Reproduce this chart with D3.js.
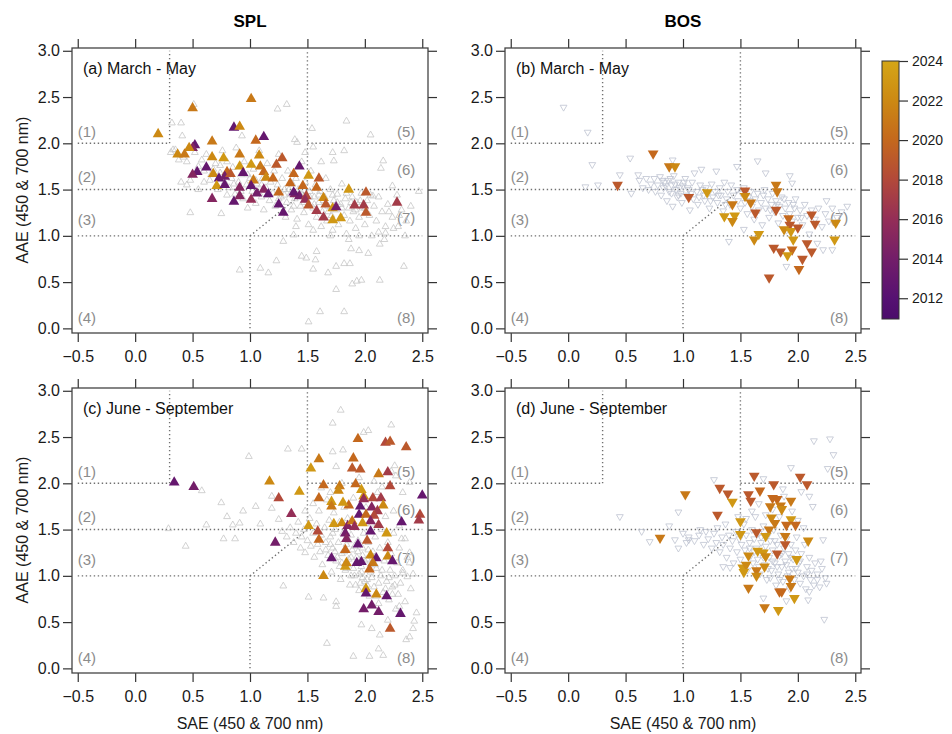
<!DOCTYPE html>
<meta charset="utf-8">
<style>
  body { margin: 0; background: #fff; }
  text { font-family: Arial, "Liberation Sans", sans-serif; }
</style>
<body>
<script src="https://d3js.org/d3.v7.min.js"></script>
<script>

// axis ticks
var xTicks = [-0.5, 0, 0.5, 1, 1.5, 2, 2.5];
var yTicks = [0, 0.5, 1, 1.5, 2, 2.5, 3];
var yearTicks = [2012, 2014, 2016, 2018, 2020, 2022, 2024];

// colour bar stops (year -> colour)
var yearStops = [2011, 2012, 2014, 2016, 2018, 2020, 2022, 2024];
var yearColors = ["#4b0c6b", "#561172", "#731e69", "#942e57", "#b2493a", "#c4681d", "#cc8913", "#d4a617"];

// classification regions (x1, y1, x2, y2)
var regionLines = [[-0.5, 2, 0.3, 2], [0.3, 2, 0.3, 3], [-0.5, 1.5, 2.5, 1.5], [-0.5, 1, 2.5, 1],
  [1, 0, 1, 1], [1, 1, 1.5, 1.5], [1.5, 1.5, 1.5, 3], [1.5, 2, 2.5, 2]];
var regionNames = ["(1)", "(2)", "(3)", "(4)", "(5)", "(6)", "(7)", "(8)"];
var regionX = [-0.5, -0.5, -0.5, -0.5, 2.44, 2.44, 2.44, 2.44];
var regionY = [2.12, 1.64, 1.17, 0.12, 2.12, 1.71, 1.2, 0.12];

// (a) SPL March - May : all points [SAE, AAE]
var splMamGray = [[0.51,2.42],[1.24,2.37],[1.32,2.42],[1.84,2.24],[1.54,2.16],[2.05,2.09],[0.32,2.22],[0.40,2.22],[0.41,2.08],[0.35,1.93],[0.93,2.08],[1.39,2.04],[1.41,2.01],[1.55,1.96],[1.72,1.90],[1.82,1.92],[2.16,1.81],[2.14,1.73],[1.73,1.81],[0.48,1.25],[0.75,1.24],[0.91,0.63],[1.09,0.65],[1.16,0.60],[1.23,0.73],[1.29,0.94],[1.38,1.01],[1.45,0.78],[1.49,0.76],[1.58,0.83],[1.57,0.74],[1.55,0.64],[1.68,0.60],[1.75,0.67],[1.82,0.70],[1.87,0.70],[1.88,0.86],[1.95,0.84],[2.03,0.81],[2.13,0.91],[2.18,1.03],[2.17,0.96],[2.34,0.67],[2.13,0.52],[1.97,0.52],[1.93,0.51],[1.89,0.48],[1.75,0.42],[1.61,0.18],[1.82,0.18],[1.51,0.07],[2.29,1.10],[2.47,1.48],[2.30,1.22],[2.21,1.26],[2.24,1.54],[2.07,1.43],
  [0.42,1.85],[0.45,1.80],[0.52,1.90],[0.55,1.75],[0.58,1.82],[0.60,1.70],[0.62,1.88],[0.65,1.60],[0.68,1.72],[0.70,1.78],[0.72,1.50],[0.74,1.68],[0.76,1.92],[0.78,1.58],[0.80,1.80],[0.82,1.52],[0.84,1.62],[0.85,1.74],[0.87,1.45],[0.88,1.95],[0.90,1.58],[0.92,1.66],[0.94,1.40],[0.95,1.80],[0.97,1.55],[0.98,1.30],[1.00,1.62],[1.02,1.48],[1.03,1.72],[1.05,1.35],[1.06,1.56],[1.08,1.92],[1.10,1.42],[1.11,1.62],[1.12,1.28],[1.14,1.52],[1.15,1.78],[1.17,1.38],[1.18,1.58],[1.20,1.46],[1.21,1.70],[1.22,1.32],[1.24,1.55],[1.25,1.88],[1.27,1.42],[1.28,1.62],[1.30,1.50],[1.31,1.20],[1.32,1.36],[1.33,1.70],[1.35,1.45],[1.36,1.28],[1.37,1.56],[1.39,1.40],[1.40,1.62],[1.41,1.18],[1.42,1.50],[1.44,1.32],[1.45,1.80],[1.46,1.44],[1.47,1.25],[1.48,1.58],[1.50,1.38],[1.51,1.12],[1.52,1.48],[1.53,1.70],[1.55,1.30],[1.56,1.42],[1.57,1.55],[1.58,1.20],[1.60,1.36],[1.61,1.48],[1.62,1.10],[1.63,1.26],[1.65,1.42],[1.66,1.62],[1.67,1.16],[1.68,1.32],[1.70,1.50],[1.71,1.22],[1.72,1.06],[1.73,1.38],[1.75,1.28],[1.76,1.45],[1.77,1.12],[1.79,1.34],[1.80,1.56],[1.82,1.22],[1.83,1.40],[1.84,1.02],[1.86,1.30],[1.87,1.16],[1.89,1.42],[1.90,1.26],[1.92,1.08],[1.93,1.36],[1.95,1.20],[1.97,1.46],[1.98,1.30],[2.00,1.12],[2.02,1.38],[2.04,1.22],[2.06,1.00],[2.08,1.32],[2.10,1.16],[2.12,1.42],[2.15,1.26],[2.18,1.10],[2.20,1.34],[2.24,1.20],[2.28,1.44],[2.32,1.28],[2.36,1.16],[2.40,1.32],
  [0.31,1.90],[0.33,1.93],[0.40,1.58],[0.55,1.50],[0.45,1.55],[0.48,1.60],[0.38,1.82],
  [1.25,1.40],[1.30,1.44],[1.34,1.50],[1.38,1.32],[1.43,1.46],[1.47,1.36],[1.52,1.42],[1.56,1.34],[1.60,1.44],[1.64,1.38],[1.68,1.26],[1.72,1.44],[1.76,1.36],[1.80,1.30],[1.84,1.46],[1.88,1.36],[1.92,1.28],[1.96,1.38],[2.00,1.30],[2.05,1.44],[1.15,1.44],[1.10,1.55],[1.05,1.60],[0.98,1.66],[0.92,1.48],[0.86,1.56],[0.80,1.44],[0.74,1.76],[0.66,1.66],[0.60,1.58],[1.40,1.10],[1.55,1.06],[1.70,1.00],[1.86,0.96],[1.95,1.00],[2.12,1.04],[2.25,1.08],[2.35,1.00],[1.48,1.90],[1.62,1.80]];

// (a) SPL March - May : highlighted points [SAE, AAE, year]
var splMamColor = [[0.20,2.10,2022],[0.50,2.38,2021],[1.01,2.48,2021],[0.86,2.17,2013],[0.91,2.18,2022],[1.12,2.07,2013],[1.05,2.03,2020],[0.67,2.02,2021],[0.52,1.98,2013],[0.50,1.95,2015],[0.47,1.95,2022],[0.37,1.88,2022],[0.43,1.88,2021],[0.67,1.85,2022],[0.77,1.84,2023],[0.91,1.88,2021],[1.08,1.87,2022],[1.28,1.84,2019],[1.23,1.77,2019],[1.43,1.75,2013],[0.62,1.74,2013],[0.54,1.69,2013],[0.50,1.66,2015],[0.68,1.67,2022],[0.80,1.69,2020],[0.91,1.75,2023],[1.01,1.77,2023],[1.09,1.75,2021],[1.12,1.69,2020],[0.94,1.68,2013],[0.73,1.62,2013],[0.78,1.64,2014],[0.83,1.67,2019],[1.03,1.60,2021],[1.14,1.63,2022],[1.20,1.62,2020],[1.38,1.67,2020],[1.51,1.65,2023],[1.60,1.62,2019],[1.35,1.57,2020],[1.46,1.54,2020],[1.58,1.52,2020],[1.86,1.50,2023],[2.01,1.47,2019],[2.28,1.36,2017],[0.71,1.54,2023],[0.78,1.55,2013],[1.01,1.54,2013],[0.91,1.52,2015],[1.12,1.50,2015],[1.16,1.45,2013],[1.06,1.46,2014],[1.25,1.47,2020],[1.25,1.34,2013],[1.29,1.25,2013],[1.39,1.45,2015],[1.43,1.43,2014],[1.49,1.43,2018],[1.48,1.39,2016],[1.51,1.33,2019],[1.64,1.41,2022],[1.66,1.34,2019],[1.58,1.27,2017],[1.64,1.20,2017],[1.72,1.30,2023],[1.75,1.31,2014],[1.79,1.19,2023],[1.72,1.17,2023],[1.91,1.33,2017],[1.99,1.33,2017],[2.01,1.25,2019],[0.67,1.40,2015],[0.86,1.37,2013],[0.91,1.43,2015],[1.01,1.39,2016],[1.38,1.47,2013]];

// (b) BOS March - May
var bosMamGray = [[-0.04,2.39],[0.17,2.12],[0.21,1.77],[0.54,1.84],[0.15,1.53],[0.26,1.55],[0.45,1.66],[0.61,1.66],[0.55,1.46],[0.91,1.82],[1.65,1.81],[1.72,1.68],[1.93,1.65],[1.95,1.57],[1.47,1.75],[1.40,0.94],[1.53,1.07],[1.90,0.67],[2.30,0.85],[2.43,1.32],[2.22,0.85],[2.17,0.92],[2.25,1.38],
  [0.62,1.60],[0.65,1.52],[0.68,1.62],[0.70,1.50],[0.72,1.56],[0.75,1.62],[0.76,1.48],[0.78,1.55],[0.80,1.64],[0.81,1.44],[0.83,1.52],[0.84,1.58],[0.86,1.38],[0.87,1.60],[0.88,1.48],[0.90,1.55],[0.91,1.32],[0.92,1.65],[0.94,1.50],[0.95,1.42],[0.96,1.58],[0.98,1.46],[0.99,1.36],[1.00,1.54],[1.02,1.62],[1.03,1.44],[1.05,1.50],[1.06,1.28],[1.08,1.58],[1.09,1.40],[1.10,1.68],[1.12,1.48],[1.13,1.34],[1.15,1.55],[1.16,1.72],[1.18,1.44],[1.19,1.38],[1.20,1.52],[1.22,1.46],[1.23,1.30],[1.25,1.56],[1.26,1.42],[1.28,1.48],[1.29,1.70],[1.30,1.36],[1.32,1.52],[1.33,1.44],[1.35,1.27],[1.36,1.58],[1.38,1.40],[1.39,1.48],[1.41,1.34],[1.42,1.55],[1.44,1.44],[1.45,1.22],[1.47,1.50],[1.48,1.38],[1.50,1.30],[1.51,1.46],[1.53,1.52],[1.54,1.36],[1.56,1.24],[1.57,1.42],[1.59,1.48],[1.60,1.32],[1.62,1.18],[1.63,1.40],[1.65,1.46],[1.66,1.28],[1.68,1.36],[1.69,1.12],[1.71,1.50],[1.72,1.30],[1.74,1.40],[1.75,1.20],[1.77,1.34],[1.78,1.46],[1.80,1.26],[1.81,1.38],[1.83,1.14],[1.84,1.32],[1.86,1.42],[1.87,1.22],[1.89,1.30],[1.90,1.06],[1.92,1.36],[1.93,1.24],[1.95,1.16],[1.97,1.30],[1.98,1.40],[2.00,1.20],[2.02,1.28],[2.04,1.12],[2.06,1.34],[2.08,1.22],[2.10,1.02],[2.12,1.28],[2.15,1.18],[2.18,1.30],[2.21,1.10],[2.24,1.24],[2.27,1.16],[2.30,1.30],[2.34,1.20],[2.38,1.26],
  [0.82,1.60],[0.85,1.54],[0.89,1.62],[0.93,1.56],[0.97,1.52],[1.01,1.58],[0.90,1.46],[0.96,1.44],[1.04,1.52],[1.07,1.46],[1.14,1.42],[1.17,1.50],[1.24,1.38],[1.31,1.44],[1.37,1.34],[1.58,1.38],[1.70,1.44],[1.76,1.28],[1.82,1.34],[1.88,1.40],[1.96,1.34],[2.03,1.20]];

var bosMamColor = [[0.74,1.89,2020],[0.88,1.75,2021],[0.93,1.75,2022],[0.43,1.55,2019],[1.05,1.42,2019],[1.21,1.47,2023],[1.54,1.49,2019],[1.54,1.43,2022],[1.59,1.36,2021],[1.43,1.34,2021],[1.36,1.21,2023],[1.45,1.22,2023],[1.43,1.16,2022],[1.63,1.25,2019],[1.81,1.55,2021],[1.82,1.48,2021],[1.81,1.28,2019],[1.92,1.19,2020],[1.93,1.12,2019],[1.88,1.07,2022],[1.94,1.05,2023],[2.00,1.09,2019],[1.96,0.96,2023],[1.62,0.96,2022],[1.66,1.02,2023],[2.12,1.23,2019],[2.15,1.13,2019],[2.33,1.14,2022],[2.32,0.96,2023],[2.08,0.92,2019],[2.12,0.83,2019],[1.79,0.87,2019],[1.85,0.83,2019],[1.95,0.85,2020],[1.91,0.79,2023],[2.04,0.75,2019],[2.01,0.64,2020],[1.75,0.55,2019]];

// (c) SPL June - September
var splJjasGray = [[1.79,2.79],[1.72,2.65],[2.23,2.63],[2.03,2.57],[1.99,2.55],[1.33,2.37],[1.45,2.37],[0.99,2.29],[1.72,2.34],[1.81,2.36],[1.75,2.18],[0.58,1.92],[0.75,1.79],[0.94,1.70],[0.80,1.64],[0.85,1.55],[0.91,1.57],[0.62,1.55],[0.29,1.51],[0.44,1.32],[0.77,1.40],[0.87,1.40],[1.05,1.75],[1.09,1.56],[1.19,1.86],[1.19,1.73],[1.25,1.61],[1.29,0.89],[1.51,0.77],[1.64,0.76],[1.75,0.72],[1.75,0.67],[1.67,0.27],[1.90,0.13],[2.04,0.13],[2.12,0.21],[2.16,0.14],[1.97,0.47],[2.06,0.43],[2.13,0.36],[2.42,0.43],[2.39,0.34],[2.36,0.31],[2.43,0.51],[2.30,0.67],[2.20,0.52],[2.33,1.90],[2.39,2.01],[2.27,2.08],[2.23,2.13],[2.26,2.19],[2.32,1.40],[2.39,1.14],[2.33,1.03],[2.39,1.25],[2.37,0.99],
  [1.28,1.48],[1.32,1.42],[1.35,1.52],[1.38,1.36],[1.40,1.46],[1.42,1.58],[1.44,1.30],[1.45,1.42],[1.47,1.50],[1.48,1.25],[1.50,1.38],[1.52,1.62],[1.53,1.32],[1.55,1.46],[1.56,1.20],[1.58,1.56],[1.59,1.34],[1.60,1.70],[1.61,1.26],[1.62,1.44],[1.63,1.12],[1.65,1.52],[1.66,1.36],[1.67,1.82],[1.68,1.22],[1.69,1.60],[1.70,1.42],[1.71,1.04],[1.72,1.30],[1.73,1.68],[1.74,1.50],[1.75,1.16],[1.76,1.92],[1.77,1.36],[1.78,1.58],[1.79,0.96],[1.80,1.24],[1.81,1.46],[1.82,1.74],[1.83,1.06],[1.84,1.34],[1.85,1.62],[1.86,1.18],[1.87,0.90],[1.88,1.44],[1.89,1.28],[1.90,1.84],[1.91,1.00],[1.92,1.52],[1.93,1.20],[1.94,1.38],[1.95,0.84],[1.96,1.66],[1.97,1.10],[1.98,1.30],[1.99,1.46],[2.00,0.94],[2.01,1.74],[2.02,1.18],[2.03,1.36],[2.04,0.78],[2.05,1.04],[2.06,1.56],[2.07,1.26],[2.08,0.88],[2.09,1.42],[2.10,1.08],[2.11,1.90],[2.12,0.70],[2.13,1.30],[2.14,1.00],[2.15,1.50],[2.16,0.82],[2.17,1.16],[2.18,1.64],[2.19,0.94],[2.20,1.36],[2.21,0.74],[2.22,1.06],[2.23,1.24],[2.24,0.88],[2.25,1.46],[2.26,1.00],[2.27,0.64],[2.28,1.14],[2.29,0.80],[2.30,1.30],[2.31,0.92],[2.33,1.06],[2.35,0.72],[2.37,1.20],[2.40,0.86],[2.42,1.02],[2.45,0.60],[1.85,1.12],[1.90,1.08],[1.95,1.02],[1.98,0.98],[2.02,0.96],[1.88,1.00],[1.93,1.14],[2.05,1.12],[1.78,1.10],[1.72,1.46],[1.82,1.26],[1.98,1.22],[2.08,1.20],[1.92,0.90],[2.00,0.86],[1.70,1.90],[1.80,2.00],[1.95,2.06],[2.08,2.02],[2.15,1.96],[1.62,1.95],[1.55,1.78],[1.48,1.70],[2.25,1.70],[2.30,1.54],[2.35,1.40],
  [1.76,1.20],[1.80,1.14],[1.84,1.08],[1.88,1.20],[1.91,1.32],[1.94,1.26],[1.97,1.04],[2.00,1.16],[2.03,1.28],[2.06,0.98],[2.09,1.12],[2.12,0.92],[2.15,1.06],[2.18,0.86],[2.21,0.98],[2.24,0.80],[1.70,1.34],[1.74,1.26],[1.66,1.28],[1.86,1.38],[1.96,0.92],[2.02,0.90],[2.10,0.78],[2.26,0.90]];

var splJjasColor = [[0.34,2.01,2013],[0.51,1.96,2014],[1.17,2.02,2022],[1.25,1.84,2018],[1.43,1.91,2023],[1.36,1.67,2016],[1.22,1.36,2014],[1.53,2.16,2023],[1.60,2.26,2021],[1.94,2.48,2020],[2.18,2.44,2018],[2.22,2.45,2019],[2.36,2.39,2019],[1.90,2.27,2020],[1.89,2.16,2019],[1.96,2.15,2019],[2.12,2.10,2021],[2.20,2.12,2017],[2.22,1.97,2018],[1.64,1.98,2020],[1.60,1.84,2020],[1.71,1.80,2023],[1.71,1.75,2021],[1.78,1.97,2021],[1.77,1.92,2022],[1.92,1.99,2020],[1.97,1.93,2023],[1.99,1.86,2023],[1.86,1.76,2020],[1.81,1.79,2023],[2.07,1.84,2018],[2.14,1.84,2017],[2.16,1.76,2022],[1.96,1.75,2013],[1.95,1.66,2013],[2.06,1.74,2015],[2.11,1.70,2017],[2.01,1.66,2020],[2.08,1.65,2018],[2.05,1.59,2015],[2.12,1.55,2017],[1.98,1.57,2023],[2.50,1.87,2013],[2.48,1.66,2018],[2.47,1.60,2017],[2.32,1.58,2013],[1.51,1.54,2023],[1.59,1.48,2018],[1.60,1.39,2020],[1.73,1.56,2023],[1.80,1.57,2022],[1.85,1.54,2015],[1.89,1.59,2021],[1.83,1.46,2014],[1.84,1.40,2015],[1.94,1.34,2013],[2.02,1.38,2019],[2.05,1.48,2013],[2.19,1.46,2023],[2.20,1.30,2018],[2.20,1.21,2022],[2.24,1.16,2013],[1.71,1.19,2013],[1.83,1.28,2020],[1.83,1.10,2023],[1.84,1.14,2022],[1.93,1.14,2013],[1.97,1.15,2013],[2.05,1.22,2022],[2.10,1.19,2013],[2.07,1.14,2021],[2.04,1.07,2020],[1.64,1.00,2022],[2.01,0.86,2023],[2.01,0.81,2013],[2.10,0.80,2022],[2.19,0.78,2013],[1.99,0.64,2014],[2.06,0.68,2014],[2.12,0.61,2014],[2.31,0.59,2013],[2.22,0.43,2019],[1.99,1.83,2016],[1.91,1.53,2016]];

// (d) BOS June - September
var bosJjasGray = [[2.14,2.46],[2.28,2.48],[2.31,2.31],[1.94,2.17],[2.26,2.16],[1.27,2.04],[1.70,2.05],[1.87,1.94],[2.03,1.91],[2.10,1.86],[2.13,1.75],[0.45,1.64],[0.96,1.69],[0.88,1.54],[0.64,1.48],[0.71,1.37],[0.93,1.39],[0.96,1.30],[1.03,1.36],[1.05,1.39],[2.22,1.39],[2.20,1.16],[2.23,0.53],[2.09,0.74],[2.10,0.83],[2.25,0.92],[2.17,0.96],[1.70,0.76],[1.90,0.73],[1.35,1.10],[1.41,1.09],
  [1.10,1.38],[1.14,1.44],[1.18,1.34],[1.20,1.48],[1.22,1.40],[1.25,1.30],[1.27,1.46],[1.29,1.36],[1.30,1.52],[1.32,1.26],[1.34,1.42],[1.35,1.34],[1.37,1.56],[1.38,1.20],[1.40,1.44],[1.41,1.30],[1.43,1.38],[1.44,1.14],[1.46,1.48],[1.47,1.26],[1.49,1.40],[1.50,1.18],[1.51,1.34],[1.53,1.56],[1.54,1.28],[1.55,1.44],[1.56,1.06],[1.58,1.36],[1.59,1.22],[1.60,1.50],[1.61,1.14],[1.62,1.40],[1.63,1.64],[1.64,1.30],[1.65,1.18],[1.66,1.46],[1.67,1.02],[1.68,1.36],[1.69,1.26],[1.70,1.54],[1.71,1.12],[1.72,1.32],[1.73,0.96],[1.74,1.44],[1.75,1.20],[1.76,1.38],[1.77,1.06],[1.78,1.28],[1.79,1.50],[1.80,1.14],[1.81,0.90],[1.82,1.34],[1.83,1.02],[1.84,1.22],[1.85,1.44],[1.86,1.10],[1.87,0.94],[1.88,1.30],[1.89,1.16],[1.90,1.40],[1.91,1.00],[1.92,1.24],[1.93,0.86],[1.94,1.34],[1.95,1.08],[1.96,1.18],[1.97,0.96],[1.98,1.28],[1.99,1.42],[2.00,1.04],[2.01,1.14],[2.02,0.92],[2.03,1.24],[2.05,1.00],[2.06,1.34],[2.07,0.86],[2.08,1.10],[2.10,1.20],[2.11,0.96],[2.12,1.06],[2.14,0.90],[2.15,1.14],[2.17,1.02],[2.19,0.88],[2.21,1.08],[2.24,0.98],[1.60,1.70],[1.66,1.78],[1.72,1.66],[1.78,1.72],[1.84,1.64],[1.55,1.62],[1.48,1.64],[1.88,1.86],[1.95,1.70],[2.00,1.60],[2.05,1.52],[1.15,1.50],[1.05,1.42],[1.00,1.46],
  [1.62,1.26],[1.66,1.10],[1.70,1.20],[1.74,1.08],[1.78,1.16],[1.82,1.10],[1.86,1.24],[1.90,1.12],[1.94,1.20],[1.98,1.08],[2.02,1.16],[1.76,0.98],[1.84,0.96],[1.58,1.30],[1.68,1.42],[1.80,1.38],[1.92,1.04],[2.08,1.02]];

var bosJjasColor = [[1.02,1.88,2021],[0.80,1.41,2021],[1.32,1.95,2019],[1.39,1.89,2019],[1.43,1.80,2023],[1.30,1.66,2019],[1.50,1.59,2023],[1.50,1.45,2023],[1.62,2.08,2019],[1.57,1.88,2019],[1.59,1.81,2019],[1.67,1.92,2020],[1.79,1.99,2019],[1.78,1.84,2020],[1.82,1.83,2020],[1.76,1.75,2021],[1.85,1.76,2021],[1.86,1.72,2022],[1.94,1.81,2021],[2.02,2.07,2019],[2.08,1.99,2019],[1.77,1.63,2022],[1.80,1.57,2021],[1.94,1.61,2023],[1.90,1.55,2020],[1.98,1.55,2020],[1.75,1.50,2021],[1.64,1.47,2019],[1.89,1.43,2021],[1.89,1.34,2019],[2.09,1.38,2022],[1.82,1.24,2019],[1.65,1.27,2023],[1.70,1.25,2023],[1.72,1.21,2022],[1.57,1.22,2022],[1.99,1.18,2023],[1.52,1.09,2023],[1.55,1.12,2022],[1.64,1.06,2021],[1.53,1.04,2023],[1.64,1.00,2022],[1.71,1.10,2022],[1.93,0.97,2021],[1.94,0.89,2021],[1.84,0.83,2020],[1.86,0.83,2020],[1.97,0.76,2023],[1.57,0.87,2021],[1.71,0.66,2021],[1.83,0.63,2023],[1.72,1.43,2023]];

var width = 952, height = 734;
var pw = 356, ph = 285;

var panels = [
  { label: "(a) March - May", gray: splMamGray, col: splMamColor, x0: 72, y0: 48, down: false, grayColor: "#c6c6c6" },
  { label: "(b) March - May", gray: bosMamGray, col: bosMamColor, x0: 505, y0: 48, down: true, grayColor: "#bec3d1" },
  { label: "(c) June - September", gray: splJjasGray, col: splJjasColor, x0: 72, y0: 388, down: false, grayColor: "#c6c6c6" },
  { label: "(d) June - September", gray: bosJjasGray, col: bosJjasColor, x0: 505, y0: 388, down: true, grayColor: "#bec3d1" }
];

var color = d3.scaleLinear().domain(yearStops).range(yearColors).interpolate(d3.interpolateRgb);

var svg = d3.select("body").append("svg")
  .attr("width", width)
  .attr("height", height);

var smallTri = d3.symbol().type(d3.symbolTriangle).size(20)();
var bigTri = d3.symbol().type(d3.symbolTriangle).size(50)();

panels.forEach(function (p) {
  var x = d3.scaleLinear().domain([-0.55, 2.55]).range([p.x0, p.x0 + pw]);
  var y = d3.scaleLinear().domain([-0.05, 3.03]).range([p.y0 + ph, p.y0]);
  var g = svg.append("g");
  var rot = p.down ? " rotate(180)" : "";

  // region boundaries
  g.selectAll(".region")
    .data(regionLines)
    .enter().append("line")
    .attr("x1", function (d) { return x(d[0]); })
    .attr("y1", function (d) { return y(d[1]); })
    .attr("x2", function (d) { return x(d[2]); })
    .attr("y2", function (d) { return y(d[3]); })
    .attr("stroke", "#707070")
    .attr("stroke-width", 1.4)
    .attr("stroke-dasharray", "1.4,2.6");

  g.selectAll(".rlab")
    .data(regionNames)
    .enter().append("text")
    .attr("x", function (d, i) { return x(regionX[i]); })
    .attr("y", function (d, i) { return y(regionY[i]); })
    .attr("dy", "0.35em")
    .attr("text-anchor", function (d, i) { return i < 4 ? "start" : "end"; })
    .attr("font-size", "15px")
    .attr("fill", "#8c8c8c")
    .text(function (d) { return d; });

  // all data, hollow
  g.selectAll(".all")
    .data(p.gray)
    .enter().append("path")
    .attr("d", smallTri)
    .attr("transform", function (d) { return "translate(" + x(d[0]) + "," + y(d[1]) + ")" + rot; })
    .attr("fill", "none")
    .attr("stroke", p.grayColor)
    .attr("stroke-width", 0.8);

  // highlighted data, coloured by year
  g.selectAll(".hi")
    .data(p.col)
    .enter().append("path")
    .attr("d", bigTri)
    .attr("transform", function (d) { return "translate(" + x(d[0]) + "," + y(d[1]) + ")" + rot; })
    .attr("fill", function (d) { return color(d[2]); });

  // axes, mirrored on all four sides
  var fmt = d3.format(".1f");
  g.append("g")
    .attr("transform", "translate(0," + (p.y0 + ph) + ")")
    .call(d3.axisBottom(x).tickValues(xTicks).tickFormat(fmt).tickSize(9).tickSizeOuter(0).tickPadding(9));
  g.append("g")
    .attr("transform", "translate(0," + p.y0 + ")")
    .call(d3.axisTop(x).tickValues(xTicks).tickFormat("").tickSize(9).tickSizeOuter(0));
  g.append("g")
    .attr("transform", "translate(" + p.x0 + ",0)")
    .call(d3.axisLeft(y).tickValues(yTicks).tickFormat(fmt).tickSize(9).tickSizeOuter(0).tickPadding(3));
  g.append("g")
    .attr("transform", "translate(" + (p.x0 + pw) + ",0)")
    .call(d3.axisRight(y).tickValues(yTicks).tickFormat("").tickSize(9).tickSizeOuter(0));

  g.selectAll(".domain").remove();
  g.selectAll(".tick line").attr("stroke", "#333").attr("stroke-width", 1.2);
  g.selectAll(".tick text").attr("font-size", "16px").attr("fill", "#1a1a1a")
    .attr("font-family", "Arial, 'Liberation Sans', sans-serif");

  g.append("rect")
    .attr("x", p.x0)
    .attr("y", p.y0)
    .attr("width", pw)
    .attr("height", ph)
    .attr("fill", "none")
    .attr("stroke", "#444")
    .attr("stroke-width", 1.3);

  g.append("text")
    .attr("x", p.x0 + 11)
    .attr("y", p.y0 + 26)
    .attr("font-size", "16px")
    .attr("fill", "#111")
    .text(p.label);
});

// column titles
svg.append("text").attr("x", 250).attr("y", 27).attr("text-anchor", "middle")
  .attr("font-size", "17px").attr("font-weight", "bold").text("SPL");
svg.append("text").attr("x", 683).attr("y", 27).attr("text-anchor", "middle")
  .attr("font-size", "17px").attr("font-weight", "bold").text("BOS");

// axis titles
[190, 530].forEach(function (cy) {
  svg.append("text")
    .attr("transform", "translate(22," + cy + ") rotate(-90)")
    .attr("text-anchor", "middle")
    .attr("dy", "0.35em")
    .attr("font-size", "16px")
    .attr("fill", "#1a1a1a")
    .text("AAE (450 & 700 nm)");
});
[250, 683].forEach(function (cx) {
  svg.append("text")
    .attr("x", cx)
    .attr("y", 729)
    .attr("text-anchor", "middle")
    .attr("font-size", "16px")
    .attr("fill", "#1a1a1a")
    .text("SAE (450 & 700 nm)");
});

// colour bar
var cb = d3.scaleLinear().domain([2010.95, 2024]).range([319, 61]);
var grad = svg.append("defs").append("linearGradient")
  .attr("id", "yeargrad")
  .attr("x1", "0").attr("y1", "1").attr("x2", "0").attr("y2", "0");
yearStops.forEach(function (yr, i) {
  grad.append("stop")
    .attr("offset", (yr - 2010.95) / (2024 - 2010.95))
    .attr("stop-color", yearColors[i]);
});
svg.append("rect")
  .attr("x", 882).attr("y", cb(2024))
  .attr("width", 17).attr("height", cb(2010.95) - cb(2024))
  .attr("fill", "url(#yeargrad)")
  .attr("stroke", "#333").attr("stroke-width", 1);

var cbAxis = svg.append("g")
  .attr("transform", "translate(899,0)")
  .call(d3.axisRight(cb).tickValues(yearTicks).tickFormat(d3.format("d")).tickSize(9).tickSizeOuter(0).tickPadding(4));
cbAxis.select(".domain").remove();
cbAxis.selectAll(".tick line").attr("stroke", "#333").attr("stroke-width", 1.2);
cbAxis.selectAll(".tick text").attr("font-size", "14px").attr("fill", "#1a1a1a")
  .attr("font-family", "Arial, 'Liberation Sans', sans-serif");

</script>
</body>
